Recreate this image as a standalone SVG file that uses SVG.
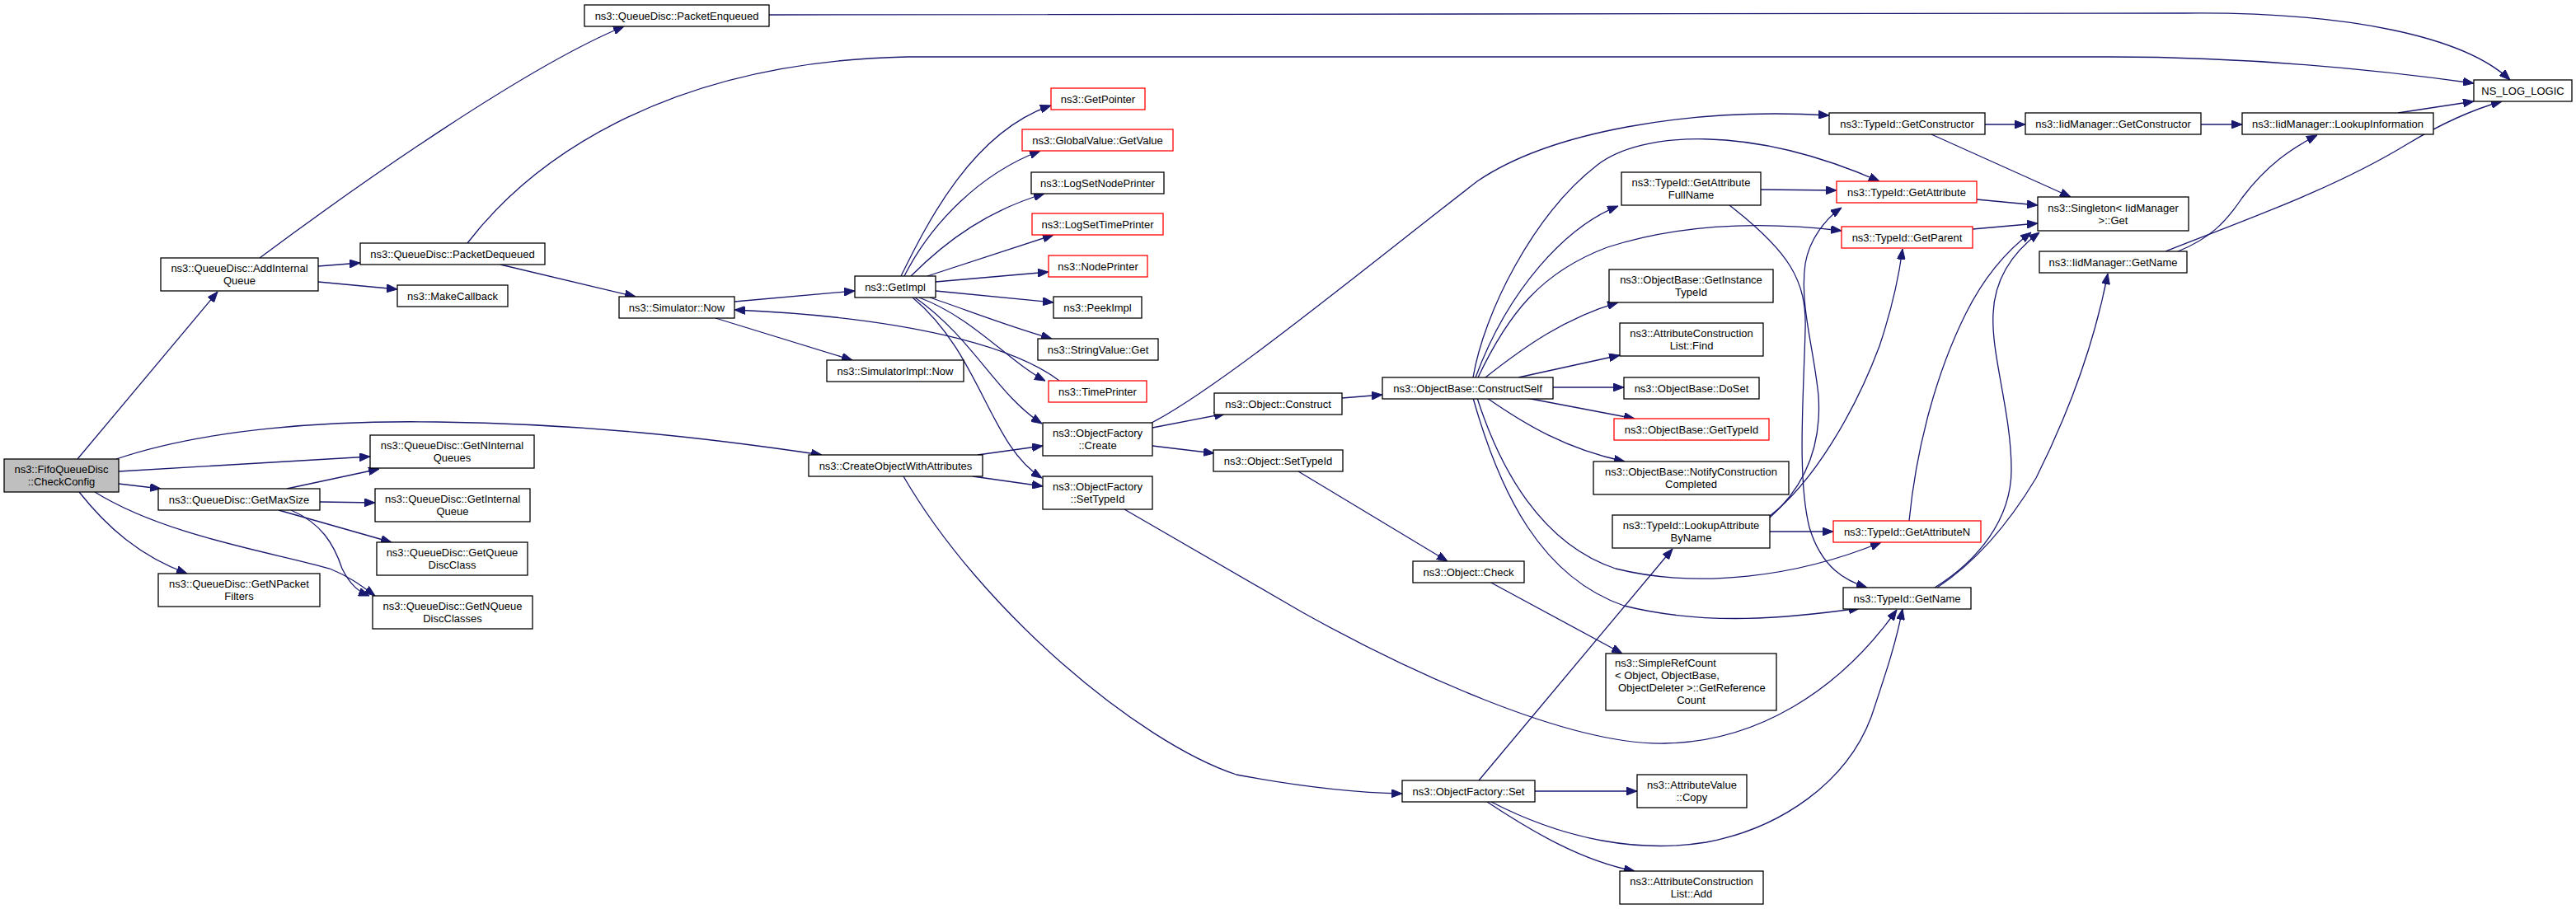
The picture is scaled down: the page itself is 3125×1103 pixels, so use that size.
<svg xmlns="http://www.w3.org/2000/svg" width="3125" height="1103" viewBox="0 0 3125 1103">
<style>
.n rect{fill:#fff;stroke:#000;stroke-width:1.3}
.n.r rect{stroke:#ff0000}
.n.g rect{fill:#bfbfbf}
.n text{font-family:"Liberation Sans",Arial,Helvetica,sans-serif;font-size:13px;fill:#000;text-anchor:middle}
.n text.l{text-anchor:start}
.e path{fill:none;stroke:#191970;stroke-width:1.3;marker-end:url(#a)}
</style>
<defs>
<marker id="a" markerWidth="13" markerHeight="10" refX="13" refY="5" orient="auto" markerUnits="userSpaceOnUse"><path d="M0,0 L13,5 L0,10 z" fill="#191970" stroke="#191970" stroke-width="1"/></marker>
</defs>
<rect width="3125" height="1103" fill="#fff"/>
<g id="edges" class="e">
<path d="M94,557 L264,354"/>
<path d="M315,313 C440,220 640,80 757,32"/>
<path d="M386,323 L437,319"/>
<path d="M386,342 L482,351"/>
<path d="M567,295 C640,200 800,75 1100,69 L2560,69 C2700,69 2850,80 3001,101"/>
<path d="M933,18 L2650,16 C2850,14 2990,45 3045,97"/>
<path d="M607,321 L771,360"/>
<path d="M891,366 L1037,353"/>
<path d="M1285,462 C1230,420 1100,385 891,376"/>
<path d="M868,386 L1034,437"/>
<path d="M1093,335 C1125,270 1180,160 1275,128"/>
<path d="M1097,335 C1130,270 1190,210 1262,183"/>
<path d="M1105,335 C1150,290 1200,255 1267,235"/>
<path d="M1125,335 L1278,285"/>
<path d="M1135,342 L1272,330"/>
<path d="M1135,353 L1278,367"/>
<path d="M1128,361 C1170,375 1220,395 1276,411"/>
<path d="M1115,361 C1180,385 1225,440 1268,462"/>
<path d="M1110,361 C1180,410 1210,480 1264,514"/>
<path d="M1107,361 C1190,430 1200,540 1264,580"/>
<path d="M141,557 C250,520 400,510 530,512 C700,514 850,530 997,552"/>
<path d="M144,572 L449,554"/>
<path d="M144,587 L195,593"/>
<path d="M96,597 C130,640 170,675 227,696"/>
<path d="M115,597 C200,650 330,670 400,690 C425,700 440,712 455,723"/>
<path d="M348,593 L460,569"/>
<path d="M388,609 L455,610"/>
<path d="M338,619 L475,658"/>
<path d="M353,619 C390,635 405,660 415,690 C425,710 435,718 448,723"/>
<path d="M1186,552 L1265,541"/>
<path d="M1180,578 L1265,590"/>
<path d="M1096,578 C1190,740 1380,900 1500,940 C1580,955 1650,962 1701,963"/>
<path d="M1398,519 L1486,502"/>
<path d="M1398,541 L1473,550"/>
<path d="M1397,513 C1480,470 1650,330 1792,220 C1880,160 2050,130 2219,140"/>
<path d="M1628,483 L1677,479"/>
<path d="M1575,572 L1756,681"/>
<path d="M1364,618 L1580,743 C1700,810 1900,905 2020,902 C2130,900 2230,840 2301,740"/>
<path d="M1807,706 L1968,793"/>
<path d="M1794,947 L2029,666"/>
<path d="M1862,960 L1986,960"/>
<path d="M1804,973 C1860,1010 1920,1045 1983,1057"/>
<path d="M1809,973 C1900,1020 1990,1035 2070,1022 C2160,1005 2240,950 2270,870 C2290,810 2300,780 2308,739"/>
<path d="M1787,458 C1800,380 1860,260 1938,200 C1990,160 2120,150 2280,220"/>
<path d="M1790,458 C1830,350 1900,275 1963,250"/>
<path d="M1793,458 C1830,380 1870,330 1950,300 C2050,268 2150,270 2234,280"/>
<path d="M1802,458 C1850,420 1900,385 1963,367"/>
<path d="M1842,458 L1965,431"/>
<path d="M1884,470 L1970,470"/>
<path d="M1852,483 L1983,508"/>
<path d="M1804,483 C1850,515 1900,545 1971,560"/>
<path d="M1792,483 C1820,570 1870,660 1960,690 C2060,715 2180,700 2282,658"/>
<path d="M1787,483 C1820,600 1870,700 1970,735 C2070,760 2170,750 2256,738"/>
<path d="M2136,230 L2228,231"/>
<path d="M2098,249 C2170,305 2192,340 2190,400 C2188,480 2180,580 2195,640 C2210,690 2240,705 2265,713"/>
<path d="M2147,628 C2190,590 2210,540 2206,480 C2200,420 2183,370 2190,320 C2195,290 2215,265 2234,252"/>
<path d="M2147,626 C2200,585 2250,500 2280,420 C2295,375 2303,340 2308,302"/>
<path d="M2147,645 L2224,645"/>
<path d="M2316,632 C2325,540 2350,450 2385,380 C2410,330 2440,300 2464,282"/>
<path d="M2347,713 C2400,680 2440,630 2440,570 C2440,500 2415,430 2418,380 C2420,330 2450,300 2474,282"/>
<path d="M2350,713 C2400,680 2440,630 2470,580 C2510,500 2540,420 2557,332"/>
<path d="M2408,151 L2457,151"/>
<path d="M2343,163 L2512,239"/>
<path d="M2670,151 L2720,151"/>
<path d="M2909,137 L3001,123"/>
<path d="M2398,242 L2472,249"/>
<path d="M2393,278 L2472,271"/>
<path d="M2642,305 C2680,290 2700,270 2720,240 C2750,200 2780,180 2811,164"/>
<path d="M2627,305 C2720,268 2830,230 2920,175 C2970,145 3010,130 3035,123"/>
</g>
<g id="n1" class="n g"><rect x="5" y="557" width="139" height="40"/><text x="74.5" y="574">ns3::FifoQueueDisc</text><text x="74.5" y="589">::CheckConfig</text></g>
<g id="n2" class="n"><rect x="195" y="313" width="191" height="40"/><text x="290.5" y="330">ns3::QueueDisc::AddInternal</text><text x="290.5" y="345">Queue</text></g>
<g id="n3" class="n"><rect x="709" y="6" width="224" height="26"/><text x="821" y="23.6">ns3::QueueDisc::PacketEnqueued</text></g>
<g id="n4" class="n"><rect x="437" y="295" width="224" height="26"/><text x="549" y="312.6">ns3::QueueDisc::PacketDequeued</text></g>
<g id="n5" class="n"><rect x="482" y="346" width="134" height="26"/><text x="549" y="363.6">ns3::MakeCallback</text></g>
<g id="n6" class="n"><rect x="751" y="360" width="140" height="26"/><text x="821" y="377.6">ns3::Simulator::Now</text></g>
<g id="n7" class="n"><rect x="1037" y="335" width="98" height="26"/><text x="1086" y="352.6">ns3::GetImpl</text></g>
<g id="n8" class="n r"><rect x="1275" y="107" width="114" height="26"/><text x="1332" y="124.6">ns3::GetPointer</text></g>
<g id="n9" class="n r"><rect x="1240" y="157" width="183" height="26"/><text x="1331.5" y="174.6">ns3::GlobalValue::GetValue</text></g>
<g id="n10" class="n"><rect x="1251" y="209" width="161" height="26"/><text x="1331.5" y="226.6">ns3::LogSetNodePrinter</text></g>
<g id="n11" class="n r"><rect x="1252" y="259" width="159" height="26"/><text x="1331.5" y="276.6">ns3::LogSetTimePrinter</text></g>
<g id="n12" class="n r"><rect x="1272" y="310" width="120" height="26"/><text x="1332" y="327.6">ns3::NodePrinter</text></g>
<g id="n13" class="n"><rect x="1278" y="360" width="107" height="26"/><text x="1331.5" y="377.6">ns3::PeekImpl</text></g>
<g id="n14" class="n"><rect x="1259" y="411" width="146" height="26"/><text x="1332" y="428.6">ns3::StringValue::Get</text></g>
<g id="n15" class="n"><rect x="1003" y="437" width="166" height="26"/><text x="1086" y="454.6">ns3::SimulatorImpl::Now</text></g>
<g id="n16" class="n r"><rect x="1272" y="462" width="119" height="26"/><text x="1331.5" y="479.6">ns3::TimePrinter</text></g>
<g id="n17" class="n"><rect x="1265" y="513" width="133" height="40"/><text x="1331.5" y="530">ns3::ObjectFactory</text><text x="1331.5" y="545">::Create</text></g>
<g id="n18" class="n"><rect x="981" y="552" width="211" height="26"/><text x="1086.5" y="569.6">ns3::CreateObjectWithAttributes</text></g>
<g id="n19" class="n"><rect x="1265" y="578" width="133" height="40"/><text x="1331.5" y="595">ns3::ObjectFactory</text><text x="1331.5" y="610">::SetTypeId</text></g>
<g id="n20" class="n"><rect x="1473" y="477" width="155" height="26"/><text x="1550.5" y="494.6">ns3::Object::Construct</text></g>
<g id="n21" class="n"><rect x="1472" y="546" width="157" height="26"/><text x="1550.5" y="563.6">ns3::Object::SetTypeId</text></g>
<g id="n22" class="n"><rect x="449" y="528" width="199" height="40"/><text x="548.5" y="545">ns3::QueueDisc::GetNInternal</text><text x="548.5" y="560">Queues</text></g>
<g id="n23" class="n"><rect x="192" y="593" width="196" height="26"/><text x="290" y="610.6">ns3::QueueDisc::GetMaxSize</text></g>
<g id="n24" class="n"><rect x="455" y="593" width="188" height="40"/><text x="549" y="610">ns3::QueueDisc::GetInternal</text><text x="549" y="625">Queue</text></g>
<g id="n25" class="n"><rect x="457" y="658" width="183" height="40"/><text x="548.5" y="675">ns3::QueueDisc::GetQueue</text><text x="548.5" y="690">DiscClass</text></g>
<g id="n26" class="n"><rect x="192" y="696" width="196" height="40"/><text x="290" y="713">ns3::QueueDisc::GetNPacket</text><text x="290" y="728">Filters</text></g>
<g id="n27" class="n"><rect x="452" y="723" width="194" height="40"/><text x="549" y="740">ns3::QueueDisc::GetNQueue</text><text x="549" y="755">DiscClasses</text></g>
<g id="n28" class="n"><rect x="2219" y="137" width="189" height="26"/><text x="2313.5" y="154.6">ns3::TypeId::GetConstructor</text></g>
<g id="n29" class="n"><rect x="2457" y="137" width="213" height="26"/><text x="2563.5" y="154.6">ns3::IidManager::GetConstructor</text></g>
<g id="n30" class="n"><rect x="2720" y="137" width="232" height="26"/><text x="2836" y="154.6">ns3::IidManager::LookupInformation</text></g>
<g id="n31" class="n"><rect x="3001" y="97" width="119" height="26"/><text x="3060.5" y="114.6">NS_LOG_LOGIC</text></g>
<g id="n32" class="n"><rect x="1967" y="209" width="169" height="40"/><text x="2051.5" y="226">ns3::TypeId::GetAttribute</text><text x="2051.5" y="241">FullName</text></g>
<g id="n33" class="n r"><rect x="2228" y="220" width="170" height="26"/><text x="2313" y="237.6">ns3::TypeId::GetAttribute</text></g>
<g id="n34" class="n r"><rect x="2234" y="275" width="159" height="26"/><text x="2313.5" y="292.6">ns3::TypeId::GetParent</text></g>
<g id="n35" class="n"><rect x="2472" y="239" width="183" height="41"/><text x="2563.5" y="256.5">ns3::Singleton&lt; IidManager</text><text x="2563.5" y="271.5">&gt;::Get</text></g>
<g id="n36" class="n"><rect x="2474" y="305" width="179" height="26"/><text x="2563.5" y="322.6">ns3::IidManager::GetName</text></g>
<g id="n37" class="n"><rect x="1952" y="327" width="199" height="40"/><text x="2051.5" y="344">ns3::ObjectBase::GetInstance</text><text x="2051.5" y="359">TypeId</text></g>
<g id="n38" class="n"><rect x="1677" y="458" width="207" height="26"/><text x="1780.5" y="475.6">ns3::ObjectBase::ConstructSelf</text></g>
<g id="n39" class="n"><rect x="1965" y="392" width="174" height="40"/><text x="2052" y="409">ns3::AttributeConstruction</text><text x="2052" y="424">List::Find</text></g>
<g id="n40" class="n"><rect x="1970" y="458" width="164" height="26"/><text x="2052" y="475.6">ns3::ObjectBase::DoSet</text></g>
<g id="n41" class="n r"><rect x="1958" y="508" width="188" height="26"/><text x="2052" y="525.6">ns3::ObjectBase::GetTypeId</text></g>
<g id="n42" class="n"><rect x="1933" y="560" width="237" height="40"/><text x="2051.5" y="577">ns3::ObjectBase::NotifyConstruction</text><text x="2051.5" y="592">Completed</text></g>
<g id="n43" class="n"><rect x="1956" y="625" width="191" height="40"/><text x="2051.5" y="642">ns3::TypeId::LookupAttribute</text><text x="2051.5" y="657">ByName</text></g>
<g id="n44" class="n r"><rect x="2224" y="632" width="179" height="26"/><text x="2313.5" y="649.6">ns3::TypeId::GetAttributeN</text></g>
<g id="n45" class="n"><rect x="1714" y="681" width="135" height="26"/><text x="1781.5" y="698.6">ns3::Object::Check</text></g>
<g id="n46" class="n"><rect x="2236" y="713" width="155" height="26"/><text x="2313.5" y="730.6">ns3::TypeId::GetName</text></g>
<g id="n47" class="n"><rect x="1948" y="793" width="207" height="69"/><text class="l" x="1959" y="809">ns3::SimpleRefCount</text><text class="l" x="1959" y="824">&lt; Object, ObjectBase,</text><text class="l" x="1963" y="839">ObjectDeleter &gt;::GetReference</text><text x="2051.5" y="854">Count</text></g>
<g id="n48" class="n"><rect x="1701" y="947" width="161" height="26"/><text x="1781.5" y="964.6">ns3::ObjectFactory::Set</text></g>
<g id="n49" class="n"><rect x="1986" y="940" width="133" height="40"/><text x="2052.5" y="957">ns3::AttributeValue</text><text x="2052.5" y="972">::Copy</text></g>
<g id="n50" class="n"><rect x="1965" y="1057" width="174" height="40"/><text x="2052" y="1074">ns3::AttributeConstruction</text><text x="2052" y="1089">List::Add</text></g>
</svg>
